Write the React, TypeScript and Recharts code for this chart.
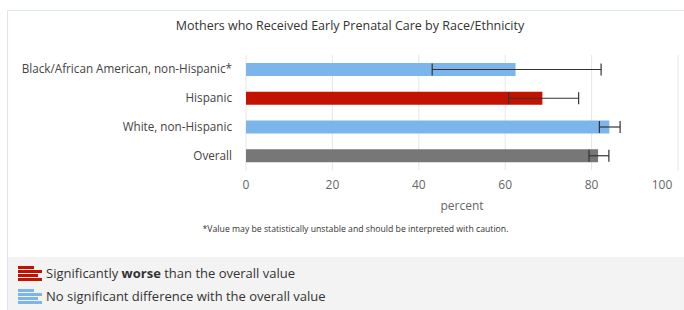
import { BarChart, Bar, XAxis, YAxis, CartesianGrid, ErrorBar, Cell, Label } from "recharts";

const groups = ["Black/African American, non-Hispanic*", "Hispanic", "White, non-Hispanic", "Overall"];
const percents = [62.4, 68.6, 84.1, 81.5];
const ciLow = [43.1, 60.8, 81.8, 79.4];
const ciHigh = [82.2, 77.0, 86.6, 84.0];
const status = ["same", "worse", "same", "overall"];
const xTicks = [0, 20, 40, 60, 80, 100];

const colors: Record<string, string> = {
  same: "#7cb5ec",
  worse: "#c21300",
  overall: "#777777",
};

const FONT = "'Open Sans', sans-serif";

// recharts error bars want [minus, plus] offsets from the value
const data = groups.map((g, i) => ({
  name: g,
  value: percents[i],
  err: [percents[i] - ciLow[i], ciHigh[i] - percents[i]],
  status: status[i],
}));

function CategoryTick(props: any) {
  const { x, y, payload } = props;
  return (
    <text x={x} y={y} dy="0.35em" textAnchor="end" fill="#444" fontSize={11.7} fontFamily={FONT}>
      {payload.value}
    </text>
  );
}

function ValueTick(props: any) {
  const { x, y, payload } = props;
  // last label gets nudged in so it isn't clipped
  const shift = payload.value === 100 ? -10 : 0;
  return (
    <text x={x + shift} y={y} dy="0.71em" textAnchor="middle" fill="#666" fontSize={12} fontFamily={FONT}>
      {payload.value}
    </text>
  );
}

function LegendIcon({ color }: { color: string }) {
  const widths = [16, 24, 20, 24];
  return (
    <svg width={24} height={15} style={{ marginRight: 4 }}>
      {widths.map((w, i) => (
        <rect key={i} x={0} y={i * 4} width={w} height={3} fill={color} />
      ))}
    </svg>
  );
}

export default function App() {
  return (
    <div style={{ position: "absolute", left: 0, top: 0, width: 684, height: 310, background: "#fff", fontFamily: FONT, overflow: "hidden" }}>
      <div style={{ position: "absolute", left: 7, top: 10, right: -2, bottom: -2, border: "1px solid #dce7f4" }} />
      <div style={{ position: "absolute", left: 0, top: 17, width: 700, textAlign: "center", fontSize: 12.5, color: "#333" }}>
        Mothers who Received Early Prenatal Care by Race/Ethnicity
      </div>
      <div style={{ position: "absolute", left: 0, top: 0 }}>
        <BarChart
          width={684}
          height={310}
          layout="vertical"
          data={data}
          margin={{ top: 55, right: 6, bottom: 100, left: 16 }}
          barCategoryGap={0}
        >
          <CartesianGrid horizontal={false} stroke="#e6e6e6" />
          <XAxis
            type="number"
            domain={[0, 100]}
            ticks={xTicks}
            axisLine={false}
            tickLine={false}
            tickSize={0}
            tickMargin={10}
            height={40}
            tick={<ValueTick />}
          >
            <Label value="percent" position="insideBottom" offset={0} fill="#666" fontSize={12} fontFamily={FONT} />
          </XAxis>
          <YAxis
            type="category"
            dataKey="name"
            width={230}
            axisLine={false}
            tickLine={false}
            tickSize={0}
            tickMargin={14}
            tick={<CategoryTick />}
          />
          <Bar dataKey="value" barSize={13} isAnimationActive={false}>
            {data.map((d, i) => (
              <Cell key={i} fill={colors[d.status]} />
            ))}
            <ErrorBar dataKey="err" direction="x" width={6} stroke="#333" strokeWidth={1.2} isAnimationActive={false} />
          </Bar>
        </BarChart>
      </div>
      <div style={{ position: "absolute", left: 0, top: 223, width: 711, textAlign: "center", fontSize: 8.7, color: "#333" }}>
        *Value may be statistically unstable and should be interpreted with caution.
      </div>
      <div style={{ position: "absolute", left: 8, top: 257, width: 680, height: 60, background: "#f3f3f3" }}>
        <div style={{ position: "absolute", left: 10, top: 7, display: "flex", alignItems: "center", fontSize: 13, color: "#333" }}>
          <LegendIcon color={colors.worse} />
          <span>
            Significantly <b>worse</b> than the overall value
          </span>
        </div>
        <div style={{ position: "absolute", left: 10, top: 30, display: "flex", alignItems: "center", fontSize: 13, color: "#333" }}>
          <LegendIcon color={colors.same} />
          <span>No significant difference with the overall value</span>
        </div>
      </div>
    </div>
  );
}
